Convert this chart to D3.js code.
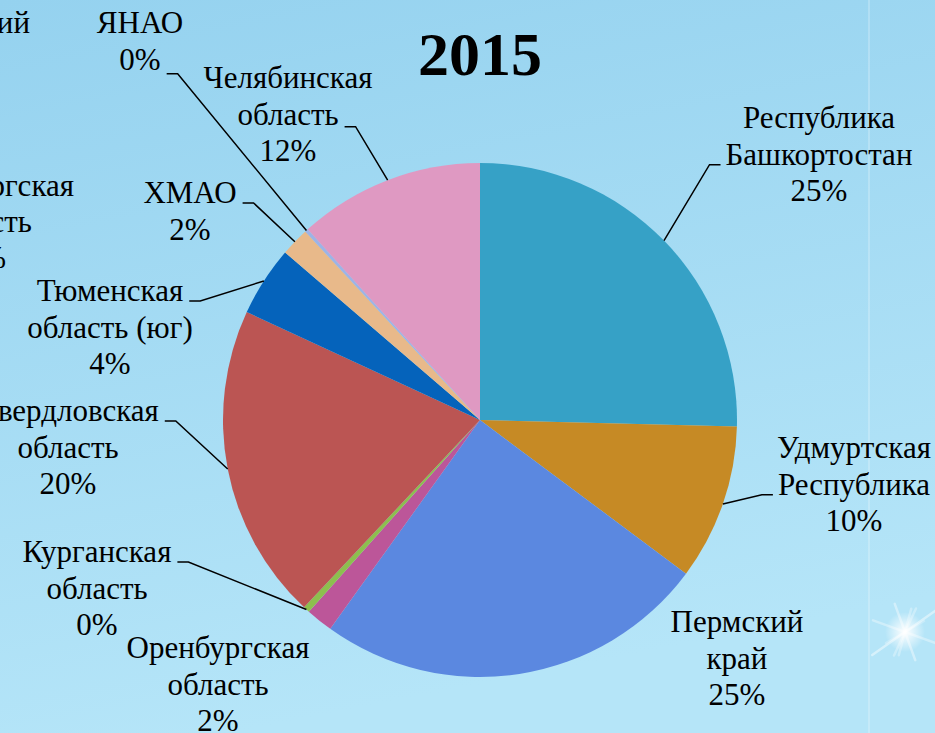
<!DOCTYPE html>
<html>
<head>
<meta charset="utf-8">
<script src="https://cdn.jsdelivr.net/npm/d3@7"></script>
<style>
  body { margin: 0; overflow: hidden; }
  svg { display: block; font-family: "Liberation Serif", "Times New Roman", "DejaVu Serif", serif; }
</style>
</head>
<body>
<div id="chart"></div>
<script>
// shares of regions, clockwise from 12 o'clock
const regions = ['Республика Башкортостан', 'Удмуртская Республика', 'Пермский край',
  'Оренбургская область', 'Курганская область', 'Свердловская область',
  'Тюменская область (юг)', 'ХМАО', 'ЯНАО', 'Челябинская область'];
const shares = [25.4, 9.8, 24.7, 1.7, 0.4, 19.9, 4.4, 1.8, 0.2, 11.7];
const colors = ['#36a1c6', '#c68a25', '#5b88e0', '#bc5699', '#8dbf4e', '#bb5553',
  '#0563bb', '#e8b98a', '#9db3e6', '#df99c2'];
const title = '2015';
// labels of the neighbouring chart, cut by the left edge
const sideTexts = ['Пермский', 'Оренбургская', 'область', '2%'];

const width = 935, height = 733;
const cx = 480, cy = 420, radius = 257;
const fontSize = 31, lineStep = 36.7;

// manual label placement: center x, first baseline, which line the leader meets, side
const labelLayout = [
  {x: 819, y: 128, line: 1, side: 'left'},
  {x: 854, y: 458, line: 1, side: 'left'},
  {x: 737, y: 632, line: null},
  {x: 218, y: 658, line: null},
  {x: 97,  y: 562, line: 0, side: 'right'},
  {x: 68,  y: 421, line: 0, side: 'right'},
  {x: 110, y: 301, line: 0, side: 'right'},
  {x: 190, y: 203, line: 0, side: 'right'},
  {x: 140, y: 33,  line: 1, side: 'right', dy: 4},
  {x: 288, y: 88,  line: 1, side: 'right', dy: 2}
];
const sideLayout = [
  {x: 30, y: 33}, {x: 74, y: 196}, {x: 32, y: 232}, {x: 6, y: 268}
];

const svg = d3.select('#chart').append('svg')
  .attr('width', width)
  .attr('height', height);

const defs = svg.append('defs');
const bg = defs.append('linearGradient')
  .attr('id', 'bg')
  .attr('x1', 0).attr('y1', 0).attr('x2', 0.25).attr('y2', 1);
bg.append('stop').attr('offset', 0).attr('stop-color', '#95d2ef');
bg.append('stop').attr('offset', 1).attr('stop-color', '#b5e5f8');

const glow = defs.append('radialGradient').attr('id', 'glow');
glow.append('stop').attr('offset', 0).attr('stop-color', '#ffffff').attr('stop-opacity', 1);
glow.append('stop').attr('offset', 0.3).attr('stop-color', '#ffffff').attr('stop-opacity', 0.7);
glow.append('stop').attr('offset', 1).attr('stop-color', '#ffffff').attr('stop-opacity', 0);

svg.append('rect')
  .attr('width', width)
  .attr('height', height)
  .attr('fill', 'url(#bg)');

// faint decoration of the slide
svg.append('line')
  .attr('x1', 869).attr('x2', 869)
  .attr('y1', 0).attr('y2', height)
  .attr('stroke', '#ffffff')
  .attr('stroke-opacity', 0.22)
  .attr('stroke-width', 2);

const spark = svg.append('g').attr('transform', 'translate(905,632)');
[[-35, 0.45, 40], [20, 0.35, 34], [70, 0.4, 30], [115, 0.3, 26], [-75, 0.3, 24], [150, 0.25, 22]]
  .forEach(([a, o, l]) => {
    spark.append('line')
      .attr('x1', -l).attr('x2', l)
      .attr('stroke', '#ffffff')
      .attr('stroke-opacity', o)
      .attr('stroke-width', 2.5)
      .attr('stroke-linecap', 'round')
      .attr('transform', `rotate(${a})`);
  });
spark.append('circle').attr('r', 20).attr('fill', 'url(#glow)');

const pie = d3.pie().sort(null).value(d => d);
const arcs = pie(shares);
const arc = d3.arc().innerRadius(0).outerRadius(radius);

const chart = svg.append('g').attr('transform', `translate(${cx},${cy})`);

chart.selectAll('.slice')
  .data(arcs)
  .join('path')
  .attr('class', 'slice')
  .attr('d', arc)
  .attr('fill', (d, i) => colors[i]);

svg.append('text')
  .attr('x', cx)
  .attr('y', 75)
  .attr('text-anchor', 'middle')
  .attr('font-size', 62)
  .attr('font-weight', 'bold')
  .attr('fill', '#000')
  .text(title);

const fmt = d3.format('.0f');

const labels = svg.selectAll('.label')
  .data(arcs)
  .join('text')
  .attr('class', 'label')
  .attr('text-anchor', 'middle')
  .attr('font-size', fontSize)
  .attr('fill', '#000');

labels.each(function(d, i) {
  const name = regions[i];
  const sp = name.indexOf(' ');
  const lines = sp < 0 ? [name] : [name.slice(0, sp), name.slice(sp + 1)];
  lines.push(fmt(shares[i]) + '%');
  const lay = labelLayout[i];
  d3.select(this).selectAll('tspan')
    .data(lines)
    .join('tspan')
    .attr('x', lay.x)
    .attr('y', (t, k) => lay.y + k * lineStep)
    .text(t => t);
});

// leader lines: arc point at mid angle -> elbow -> horizontal to label
const leaders = [];
labels.each(function(d, i) {
  const lay = labelLayout[i];
  if (lay.line === null) return;
  const tspan = d3.select(this).selectAll('tspan').nodes()[lay.line];
  const w = tspan.getComputedTextLength();
  const ly = lay.y + lay.line * lineStep + (lay.dy || 0);
  const endX = lay.side === 'left' ? lay.x - w / 2 - 5 : lay.x + w / 2 + 6;
  const elbowX = lay.side === 'left' ? endX - 11 : endX + 11;
  const mid = (d.startAngle + d.endAngle) / 2;
  const px = cx + radius * Math.sin(mid);
  const py = cy - radius * Math.cos(mid);
  leaders.push([[px, py], [elbowX, ly], [endX, ly]]);
});

svg.selectAll('.leader')
  .data(leaders)
  .join('path')
  .attr('class', 'leader')
  .attr('d', d3.line())
  .attr('fill', 'none')
  .attr('stroke', '#000')
  .attr('stroke-width', 1.5);

svg.selectAll('.side-text')
  .data(sideTexts)
  .join('text')
  .attr('class', 'side-text')
  .attr('x', (d, i) => sideLayout[i].x)
  .attr('y', (d, i) => sideLayout[i].y)
  .attr('text-anchor', 'end')
  .attr('font-size', fontSize)
  .attr('fill', '#000')
  .text(d => d);
</script>
</body>
</html>
